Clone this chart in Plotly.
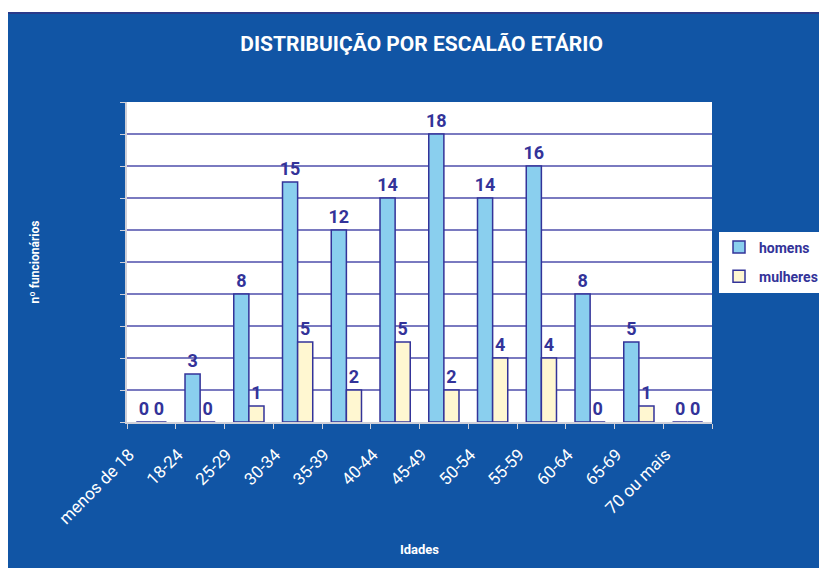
import plotly.graph_objects as go

categorias = ["menos de 18", "18-24", "25-29", "30-34", "35-39", "40-44",
              "45-49", "50-54", "55-59", "60-64", "65-69", "70 ou mais"]
homens = [0, 3, 8, 15, 12, 14, 18, 14, 16, 8, 5, 0]
mulheres = [0, 0, 1, 5, 2, 5, 2, 4, 4, 0, 1, 0]

BLUE = "#1155A5"
NAVY = "#333399"
FONT = "Roboto, Liberation Sans, sans-serif"

# page body adds an 8px offset; figure sized so it fills the 827x568 window
W, H = 819, 560
L, R, T, B = 119, 115, 94, 146
PW, PH = W - L - R, H - T - B

fig = go.Figure()
fig.add_trace(go.Bar(
    x=categorias, y=homens, name="homens", legendgroup="h",
    marker=dict(color="#8ACFEE", line=dict(color=NAVY, width=1.5)),
    text=homens, textposition="outside", cliponaxis=False, constraintext="none",
    textfont=dict(family=FONT, size=18, color=NAVY, weight="bold"),
))
fig.add_trace(go.Bar(
    x=categorias, y=mulheres, name="mulheres", legendgroup="m",
    marker=dict(color="#FFF7D1", line=dict(color=NAVY, width=1.5)),
    text=mulheres, textposition="outside", cliponaxis=False, constraintext="none",
    textfont=dict(family=FONT, size=18, color=NAVY, weight="bold"),
))

fig.update_layout(
    width=W, height=H,
    margin=dict(l=L, r=R, t=T, b=B, autoexpand=False),
    paper_bgcolor=BLUE, plot_bgcolor="white",
    barmode="group", bargap=0.38, bargroupgap=0,
    title=dict(text="DISTRIBUIÇÃO POR ESCALÃO ETÁRIO", x=0.505, xanchor="center",
               y=1 - 36 / H, yanchor="middle",
               font=dict(family="Liberation Sans Narrow, " + FONT, size=21, color="white", weight="bold")),
    showlegend=True,
    legend=dict(x=1 + (823 - 8 - (L + PW)) / PW, xanchor="right", y=0.5, yanchor="middle",
                bgcolor="white", font=dict(family=FONT, size=14, color=NAVY, weight="bold"),
                itemwidth=30, tracegroupgap=8, traceorder="grouped"),
    font=dict(family=FONT, color="white"),
    xaxis=dict(
        automargin=False,
        tickangle=-45, tickfont=dict(family=FONT, size=17, color="white"),
        ticklabelshift=-22, ticklabelstandoff=14,
        showline=True, linecolor="#D0D0D8", linewidth=2,
        ticks="outside", tickcolor="#D0D0D8", ticklen=5, tickson="boundaries",
        title=dict(text="Idades", font=dict(family=FONT, size=13, color="white", weight="bold"),
                   standoff=18),
    ),
    yaxis=dict(
        automargin=False,
        range=[0, 20], dtick=2, showticklabels=False,
        showgrid=True, gridcolor="#7A7AC0", gridwidth=1.5,
        showline=True, linecolor="#D0D0D8", linewidth=2,
        ticks="outside", tickcolor="#D0D0D8", ticklen=5,
        zeroline=False,
        title=dict(text="nº funcionários", font=dict(family=FONT, size=12, color="white", weight="bold"),
                   standoff=78),
    ),
    shapes=[
        dict(type="rect", xref="paper", yref="paper", x0=-0.3, x1=1.3,
             y0=(PH + T - 5) / PH, y1=1.4, fillcolor="white", line=dict(width=0), layer="above"),
        dict(type="line", xref="paper", yref="paper", x0=-0.3, x1=1.3,
             y0=(PH + T - 5) / PH, y1=(PH + T - 5) / PH, line=dict(color="#2A3A8A", width=2)),
    ],
)

fig.write_html("out.html")
